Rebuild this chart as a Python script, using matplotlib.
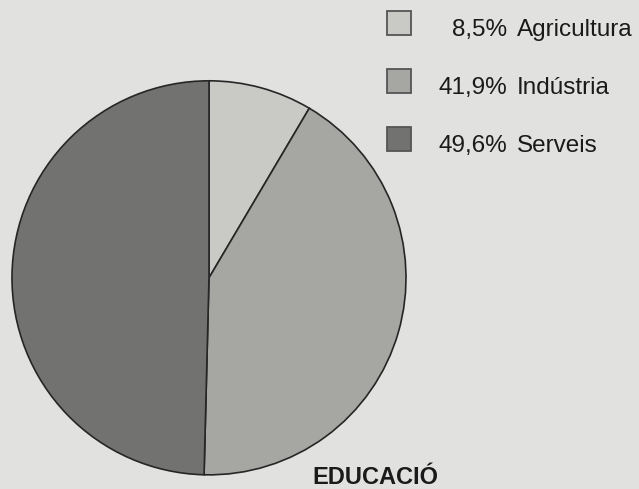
import matplotlib
matplotlib.use("Agg")
import matplotlib.pyplot as plt
from matplotlib.patches import Rectangle

# dades
sectors = ["Agricultura", "Indústria", "Serveis"]
percentatges = [8.5, 41.9, 49.6]
etiquetes_pct = ["8,5%", "41,9%", "49,6%"]
titol = "EDUCACIÓ"

fons = "#e1e1df"
colors = ["#c9c9c6", "#a6a6a3", "#727271"]
vora = "#262626"

plt.rcParams["font.family"] = ["Liberation Sans", "DejaVu Sans"]

W, H = 639, 489
fig = plt.figure(figsize=(W / 100, 4.894), dpi=100, facecolor=fons)

# pastís: centre (209, 278) px, radi 198 px
cx, cy, r = 209, 278, 198
ax = fig.add_axes([(cx - r) / W, (H - cy - r) / H, 2 * r / W, 2 * r / H])
ax.pie(
    percentatges, colors=colors, startangle=90, counterclock=False,
    wedgeprops=dict(edgecolor=vora, linewidth=1.2),
)
ax.set_xlim(-1.005, 1.005)
ax.set_ylim(-1.005, 1.005)
ax.set_aspect("equal")

# capa de text en píxels
ov = fig.add_axes([0, 0, 1, 1], facecolor="none")
ov.set_xlim(0, W)
ov.set_ylim(H, 0)
ov.axis("off")

for i, (nom, pct, col) in enumerate(zip(sectors, etiquetes_pct, colors)):
    y0 = 11 + i * 58
    ov.add_patch(Rectangle((387, y0), 24, 24, facecolor=col,
                           edgecolor="#555555", linewidth=1.3))
    ov.text(507, y0 + 25, pct, ha="right", va="baseline",
            fontsize=17.5, color="#1a1a1a")
    ov.text(517, y0 + 25, nom, ha="left", va="baseline",
            fontsize=17.5, color="#1a1a1a")

ov.text(375, 484, titol, ha="center", va="baseline", fontsize=17,
        fontweight="bold", color="#1a1a1a")

fig.savefig("out.png", dpi=100, facecolor=fons)
